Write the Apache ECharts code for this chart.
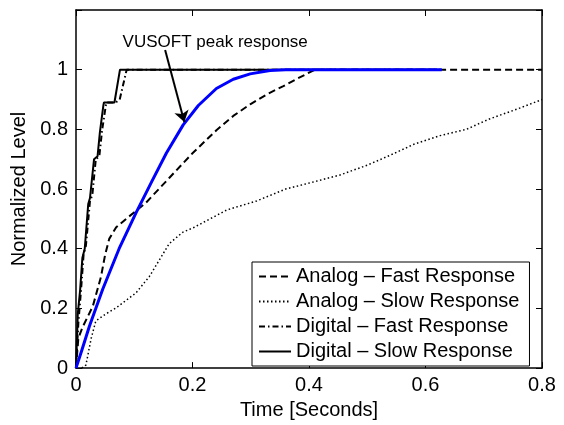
<!DOCTYPE html>
<html>
<head>
<meta charset="utf-8">
<script src="https://cdn.jsdelivr.net/npm/echarts@6/dist/echarts.min.js"></script>
<style>
  html, body { margin: 0; padding: 0; background: #fff; }
  #main { width: 564px; height: 425px; }
</style>
</head>
<body>
<div id="main"></div>
<script>
var xTicks = [0, 0.2, 0.4, 0.6, 0.8];
var yTicks = [0, 0.2, 0.4, 0.6, 0.8, 1];

var analogFast = [[0, 0], [0.004, 0.1], [0.011, 0.136], [0.029, 0.208], [0.043, 0.307], [0.05, 0.38],
    [0.057, 0.433], [0.069, 0.472], [0.086, 0.5], [0.12, 0.554], [0.16, 0.637], [0.2, 0.72],
    [0.241, 0.797], [0.27, 0.845], [0.299, 0.884], [0.33, 0.92], [0.356, 0.945], [0.38, 0.97],
    [0.41, 1], [0.8, 1]];
var analogSlow = [[0.01, 0], [0.017, 0.01], [0.026, 0.099], [0.034, 0.158], [0.05, 0.18], [0.069, 0.202],
    [0.103, 0.252], [0.126, 0.307], [0.143, 0.362], [0.16, 0.417], [0.183, 0.455], [0.203, 0.472],
    [0.259, 0.53], [0.31, 0.56], [0.36, 0.6], [0.41, 0.625], [0.453, 0.647], [0.5, 0.68],
    [0.539, 0.713], [0.58, 0.75], [0.625, 0.779], [0.67, 0.8], [0.71, 0.835], [0.76, 0.87], [0.8, 0.9]];
var digitalFast = [[0, 0], [0.004, 0.15], [0.009, 0.27], [0.013, 0.38], [0.017, 0.41], [0.024, 0.56],
    [0.028, 0.58], [0.034, 0.7], [0.04, 0.71], [0.045, 0.8], [0.052, 0.89], [0.068, 0.89], [0.075, 0.9],
    [0.087, 1], [0.62, 1]];
var digitalSlow = [[0, 0], [0.003, 0.18], [0.007, 0.26], [0.011, 0.37], [0.015, 0.4], [0.021, 0.55],
    [0.024, 0.57], [0.031, 0.7], [0.037, 0.71], [0.041, 0.79], [0.047, 0.88], [0.048, 0.89], [0.066, 0.89],
    [0.0755, 1], [0.62, 1]];
var vusoft = [[0, 0], [0.01, 0.06], [0.023, 0.14], [0.046, 0.265], [0.074, 0.4], [0.103, 0.52],
    [0.13, 0.625], [0.155, 0.72], [0.184, 0.815], [0.21, 0.88], [0.241, 0.937], [0.27, 0.968],
    [0.299, 0.986], [0.333, 0.997], [0.36, 1], [0.628, 1]];

var seriesNames = ['Analog \u2013 Fast Response', 'Analog \u2013 Slow Response',
    'Digital \u2013 Fast Response', 'Digital \u2013 Slow Response'];

var noteText = 'VUSOFT peak response';
var notePos = [0.239, 1.092];
var arrowFrom = [0.153, 1.066];
var arrowTo = [0.186, 0.825];

var font = 'Liberation Sans';

var fmtNum = function (v) {
    if (v > 1.01) return '';
    return v === 0 ? '0' : String(+v.toFixed(1));
};

var axisBase = function (pos, showLabel) {
    return {
        type: 'value',
        position: pos,
        min: 0,
        axisLine: { show: true, onZero: false, lineStyle: { color: '#000', width: 1.5 } },
        axisTick: { show: true, inside: true, length: 6, lineStyle: { color: '#000', width: 1 } },
        axisLabel: { show: showLabel, color: '#000', fontSize: 20, fontFamily: font, formatter: fmtNum },
        splitLine: { show: false }
    };
};

var xBottom = axisBase('bottom', true);
xBottom.max = 0.8; xBottom.interval = 0.2;
xBottom.axisLabel.margin = 7;
xBottom.name = 'Time [Seconds]';
xBottom.nameLocation = 'middle';
xBottom.nameGap = 30;
xBottom.nameTextStyle = { color: '#000', fontSize: 20, fontFamily: font };
var xTop = axisBase('top', false);
xTop.max = 0.8; xTop.interval = 0.2;

var yLeft = axisBase('left', true);
yLeft.max = 1.2; yLeft.interval = 0.2;
yLeft.axisLabel.margin = 8;
yLeft.name = 'Normalized Level';
yLeft.nameLocation = 'middle';
yLeft.nameGap = 42;
yLeft.nameTextStyle = { color: '#000', fontSize: 20, fontFamily: font };
var yRight = axisBase('right', false);
yRight.max = 1.2; yRight.interval = 0.2;

var blackLine = function (name, data, type, width) {
    return {
        name: name,
        type: 'line',
        data: data,
        symbol: 'none',
        showSymbol: false,
        xAxisIndex: 0,
        yAxisIndex: 0,
        lineStyle: { color: '#000', width: width, type: type },
        itemStyle: { color: '#000' },
        z: 2
    };
};

var chart = echarts.init(document.getElementById('main'));
chart.setOption({
    animation: false,
    backgroundColor: '#fff',
    grid: { left: 76, right: 22, top: 10, bottom: 52 },
    xAxis: [xBottom, xTop],
    yAxis: [yLeft, yRight],
    legend: {
        data: seriesNames,
        orient: 'vertical',
        left: 252,
        top: 262,
        backgroundColor: '#fff',
        borderColor: '#000',
        borderWidth: 1,
        padding: [4, 10, 4, 6],
        itemGap: 4,
        itemWidth: 32,
        itemHeight: 14,
        itemStyle: { opacity: 0 },
        textStyle: { color: '#000', fontSize: 20, fontFamily: font, lineHeight: 21 }
    },
    series: [
        blackLine(seriesNames[0], analogFast, [7, 4], 2),
        blackLine(seriesNames[1], analogSlow, [1.5, 2.5], 1.5),
        blackLine(seriesNames[2], digitalFast, [6, 3, 1.5, 3], 2),
        blackLine(seriesNames[3], digitalSlow, 'solid', 2),
        {
            name: 'VUSOFT',
            type: 'line',
            data: vusoft,
            symbol: 'none',
            showSymbol: false,
            lineStyle: { color: '#0000ff', width: 3, join: 'round' },
            itemStyle: { color: '#0000ff' },
            z: 3,
            markLine: {
                silent: true,
                symbol: ['none', 'arrow'],
                symbolSize: 11,
                label: { show: false },
                lineStyle: { color: '#000', width: 2, type: 'solid' },
                data: [[{ coord: arrowFrom }, { coord: arrowTo }]]
            },
            markPoint: {
                silent: true,
                data: [{
                    coord: notePos,
                    symbol: 'circle',
                    symbolSize: 1,
                    itemStyle: { color: 'transparent' },
                    label: {
                        show: true,
                        position: 'inside',
                        formatter: noteText,
                        color: '#000',
                        fontSize: 17,
                        fontFamily: font
                    }
                }]
            }
        }
    ]
});
</script>
</body>
</html>
